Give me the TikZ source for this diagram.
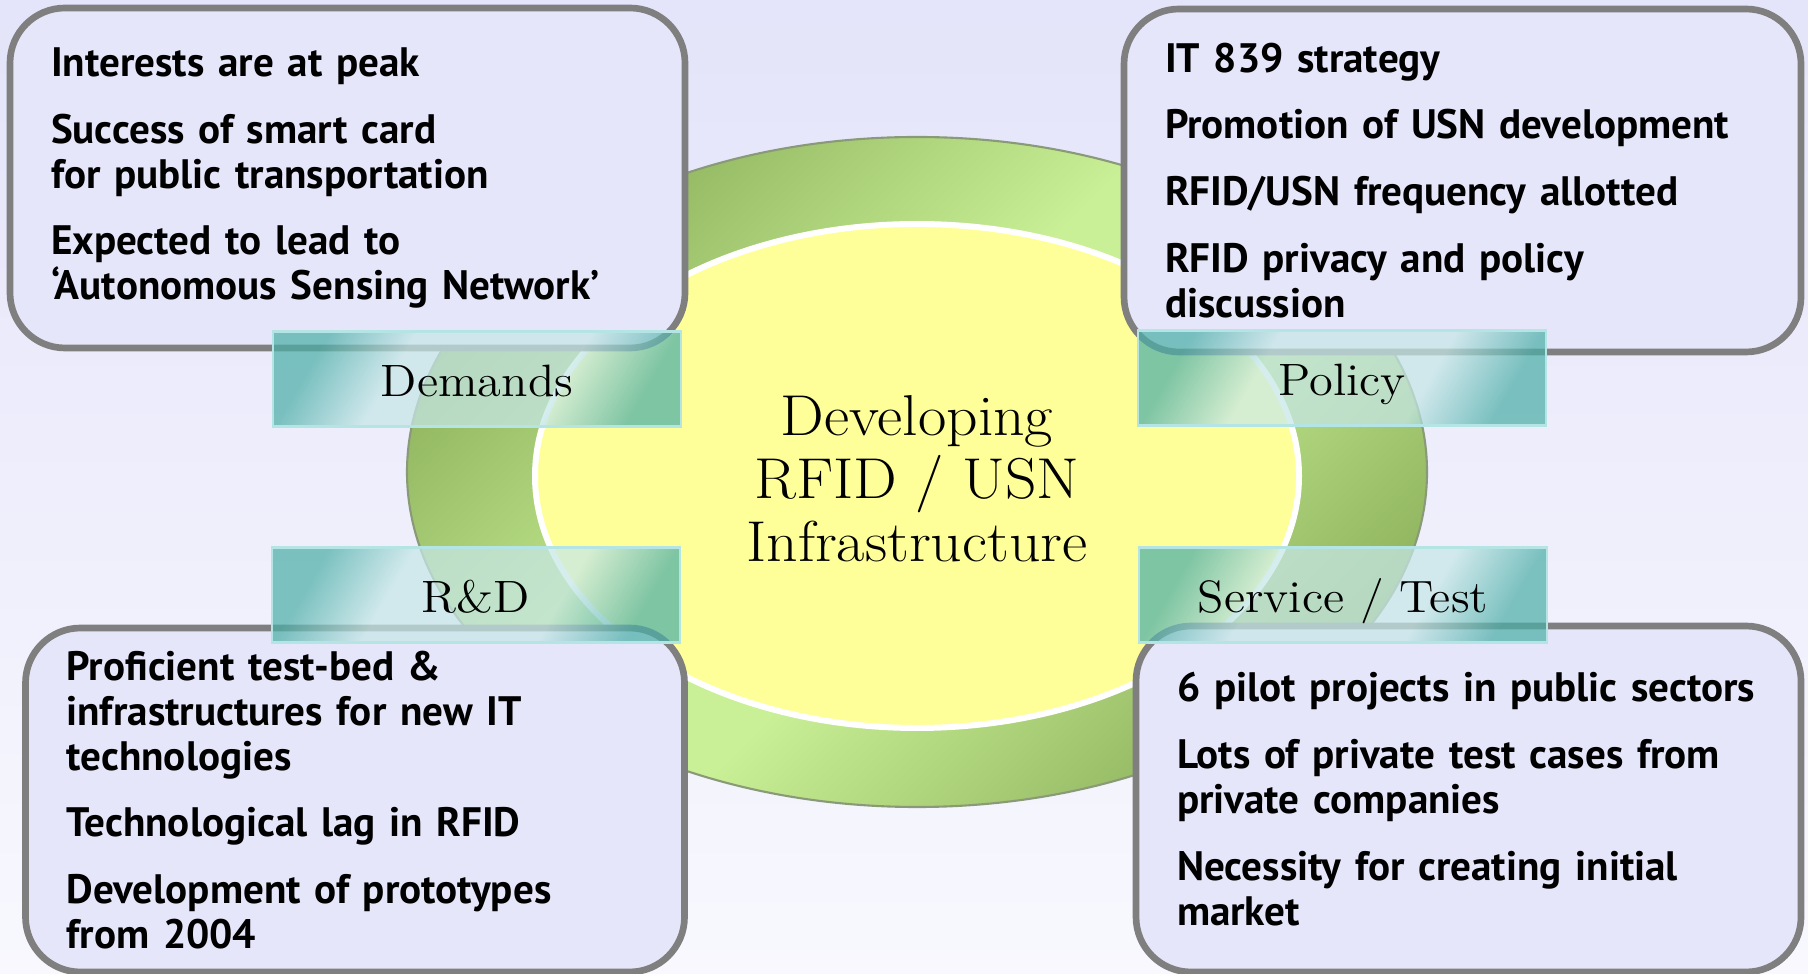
\documentclass[tikz,border=0pt]{standalone}
\usepackage{fontspec}
\setsansfont{PT Sans}
\newfontfamily\labelfont{Latin Modern Roman}[FakeStretch=1.07]
\usetikzlibrary{positioning}
\definecolor{bglav}{HTML}{E4E4FA}
\definecolor{bgpale}{HTML}{F8F8FE}
\definecolor{boxfill}{HTML}{E6E6FA}
\definecolor{boxedge}{HTML}{7F7F7F}
\definecolor{ringlight}{HTML}{C9F096}
\definecolor{ringdark}{HTML}{8DB15C}
\definecolor{ringedge}{HTML}{8A9A78}
\definecolor{hubyellow}{HTML}{FFFF99}
\definecolor{banddark}{HTML}{4DAFA8}
\definecolor{bandlight}{HTML}{C6E7E7}
\definecolor{bandedge}{HTML}{B4E4E4}
\pgfdeclarehorizontalshading{ringshade}{100bp}{color(0bp)=(ringdark); color(24bp)=(ringdark); color(46bp)=(ringlight); color(54bp)=(ringlight); color(76bp)=(ringdark); color(100bp)=(ringdark)}
\pgfdeclarehorizontalshading{bandshade}{100bp}{color(0bp)=(banddark); color(24bp)=(banddark); color(37bp)=(bandlight); color(63bp)=(bandlight); color(76bp)=(banddark); color(100bp)=(banddark)}

\begin{document}
\begin{tikzpicture}[
  infobox/.style={rectangle, draw=boxedge, line width=1.9pt, fill=boxfill, rounded corners=0.55cm, align=left, inner xsep=0.41cm, inner ysep=0pt, font=\sffamily\bfseries\fontsize{11.7}{12.8}\selectfont},
  band/.style={rectangle, draw=bandedge, line width=0.8pt, shading=bandshade, shading angle=-30, fill opacity=0.72, text opacity=1, minimum width=4.08cm, minimum height=0.95cm, text height=12pt, text depth=1.8pt, font=\labelfont\fontsize{12.9}{15}\selectfont},
]
  \useasboundingbox (0,0) rectangle (18.08,-9.74);
  % Background
  \shade[top color=bglav, bottom color=bgpale] (0,0) rectangle (18.08,-9.74);

  % Ring and hub
  \draw[ringedge, line width=0.6pt, shading=ringshade, shading angle=-45] (9.17,-4.72) ellipse [x radius=5.10, y radius=3.35];
  \draw[white, line width=1.7pt, fill=hubyellow] (9.17,-4.76) ellipse [x radius=3.82, y radius=2.52];
  \node[align=center, font=\labelfont\fontsize{16.4}{17.9}\selectfont] (hub) at (9.17,-4.79) {Developing\\RFID / USN\\Infrastructure};

  % Boxes
  \node[infobox, text width=5.93cm, minimum height=3.40cm] (demtext) at (3.475,-1.78)
    {Interests are at peak\\[6.2pt]
     Success of smart card\\for public transportation\\[6.2pt]
     Expected to lead to\\`Autonomous Sensing Network'};
  \node[infobox, text width=5.95cm, minimum height=3.43cm] (poltext) at (14.625,-1.805)
    {IT 839 strategy\\[6.2pt]
     Promotion of USN development\\[6.2pt]
     RFID/USN frequency allotted\\[6.2pt]
     RFID privacy and policy\\discussion};
  \node[infobox, text width=5.77cm, minimum height=3.44cm] (rndtext) at (3.55,-8.00)
    {Proficient test-bed \&\\infrastructures for new IT\\technologies\\[6.2pt]
     Technological lag in RFID\\[6.2pt]
     Development of prototypes\\from 2004};
  \node[infobox, text width=5.83cm, minimum height=3.46cm] (srvtext) at (14.685,-7.99)
    {6 pilot projects in public sectors\\[6.2pt]
     Lots of private test cases from\\private companies\\[6.2pt]
     Necessity for creating initial\\market};

  % Labels
  \node[band] (demands) at (4.77,-3.79) {Demands};
  \node[band] (policy) at (13.42,-3.78) {Policy};
  \node[band] (rnd) at (4.76,-5.95) {R\&D};
  \node[band] (service) at (13.43,-5.95) {Service / Test};
\end{tikzpicture}
\end{document}
